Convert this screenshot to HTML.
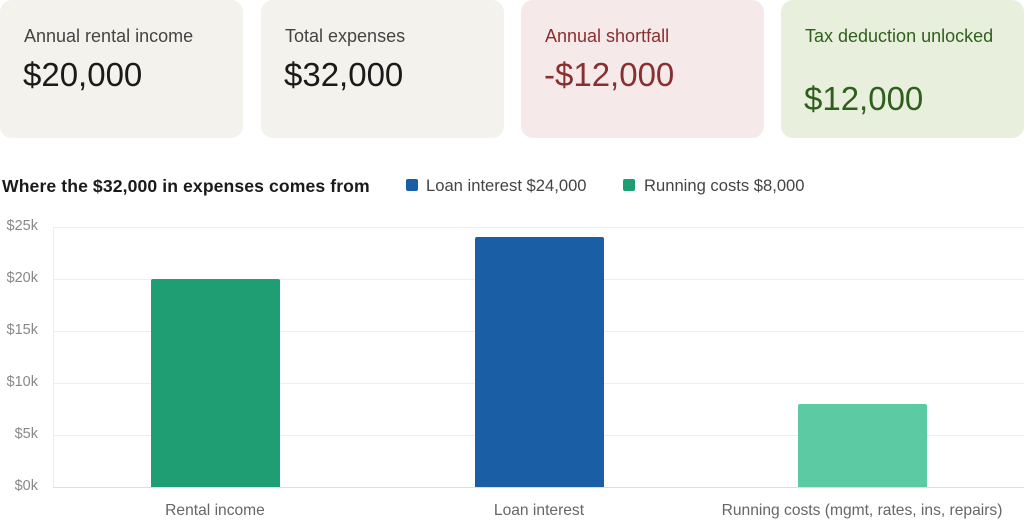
<!DOCTYPE html>
<html><head><style>
body{margin:0;width:1024px;height:526px;background:#fff;font-family:"Liberation Sans",sans-serif;position:relative;overflow:hidden}
.card{position:absolute;top:0;height:138px;width:243px;border-radius:12px;background:#f3f2ec}
.lab{position:absolute;left:24px;top:26px;font-size:18px;color:#444}
.val{position:absolute;left:23px;top:56px;font-size:33px;color:#1a1a1a}
.ab{position:absolute;font-size:14.5px;color:#888;text-align:right;width:40px;left:-2px}
.grid{position:absolute;left:53px;right:0;height:1px;background:#eee}
.cat{position:absolute;top:502px;font-size:15.6px;color:#666;text-align:center;width:340px}
</style></head><body>
<div class="card" style="left:0"><div class="lab">Annual rental income</div><div class="val">$20,000</div></div>
<div class="card" style="left:261px"><div class="lab">Total expenses</div><div class="val">$32,000</div></div>
<div class="card" style="left:521px;background:#f5eae9"><div class="lab" style="color:#8a2f2f">Annual shortfall</div><div class="val" style="color:#8a2f2f">-$12,000</div></div>
<div class="card" style="left:781px;background:#e8f0dd"><div class="lab" style="color:#2f5f1c">Tax deduction unlocked</div><div class="val" style="color:#2f5f1c;top:80px">$12,000</div></div>
<div style="position:absolute;left:2px;top:176px;font-size:17.6px;font-weight:bold;color:#1a1a1a;letter-spacing:0.1px">Where the $32,000 in expenses comes from</div>
<div style="position:absolute;left:406px;top:179px;width:12px;height:12px;border-radius:2px;background:#1a5fa6"></div>
<div style="position:absolute;left:426px;top:176px;font-size:16.6px;color:#444">Loan interest $24,000</div>
<div style="position:absolute;left:623px;top:179px;width:12px;height:12px;border-radius:2px;background:#1f9e74"></div>
<div style="position:absolute;left:644px;top:176px;font-size:16.6px;color:#444">Running costs $8,000</div>
<div class="grid" style="top:227px"></div><div class="ab" style="top:218px">$25k</div>
<div class="grid" style="top:279px"></div><div class="ab" style="top:270px">$20k</div>
<div class="grid" style="top:331px"></div><div class="ab" style="top:322px">$15k</div>
<div class="grid" style="top:383px"></div><div class="ab" style="top:374px">$10k</div>
<div class="grid" style="top:435px"></div><div class="ab" style="top:426px">$5k</div>
<div class="grid" style="top:487px;background:#ddd"></div><div class="ab" style="top:478px">$0k</div>
<div style="position:absolute;left:53px;top:227px;width:1px;height:260px;background:#eee"></div>
<div style="position:absolute;left:151px;top:279px;width:129px;height:208px;background:#1f9e74;border-radius:2px 2px 0 0"></div>
<div style="position:absolute;left:475px;top:237px;width:129px;height:250px;background:#1a5fa6;border-radius:2px 2px 0 0"></div>
<div style="position:absolute;left:798px;top:404px;width:129px;height:83px;background:#5ccaa2;border-radius:2px 2px 0 0"></div>
<div class="cat" style="left:45px">Rental income</div>
<div class="cat" style="left:369px">Loan interest</div>
<div class="cat" style="left:692px">Running costs (mgmt, rates, ins, repairs)</div>
</body></html>
